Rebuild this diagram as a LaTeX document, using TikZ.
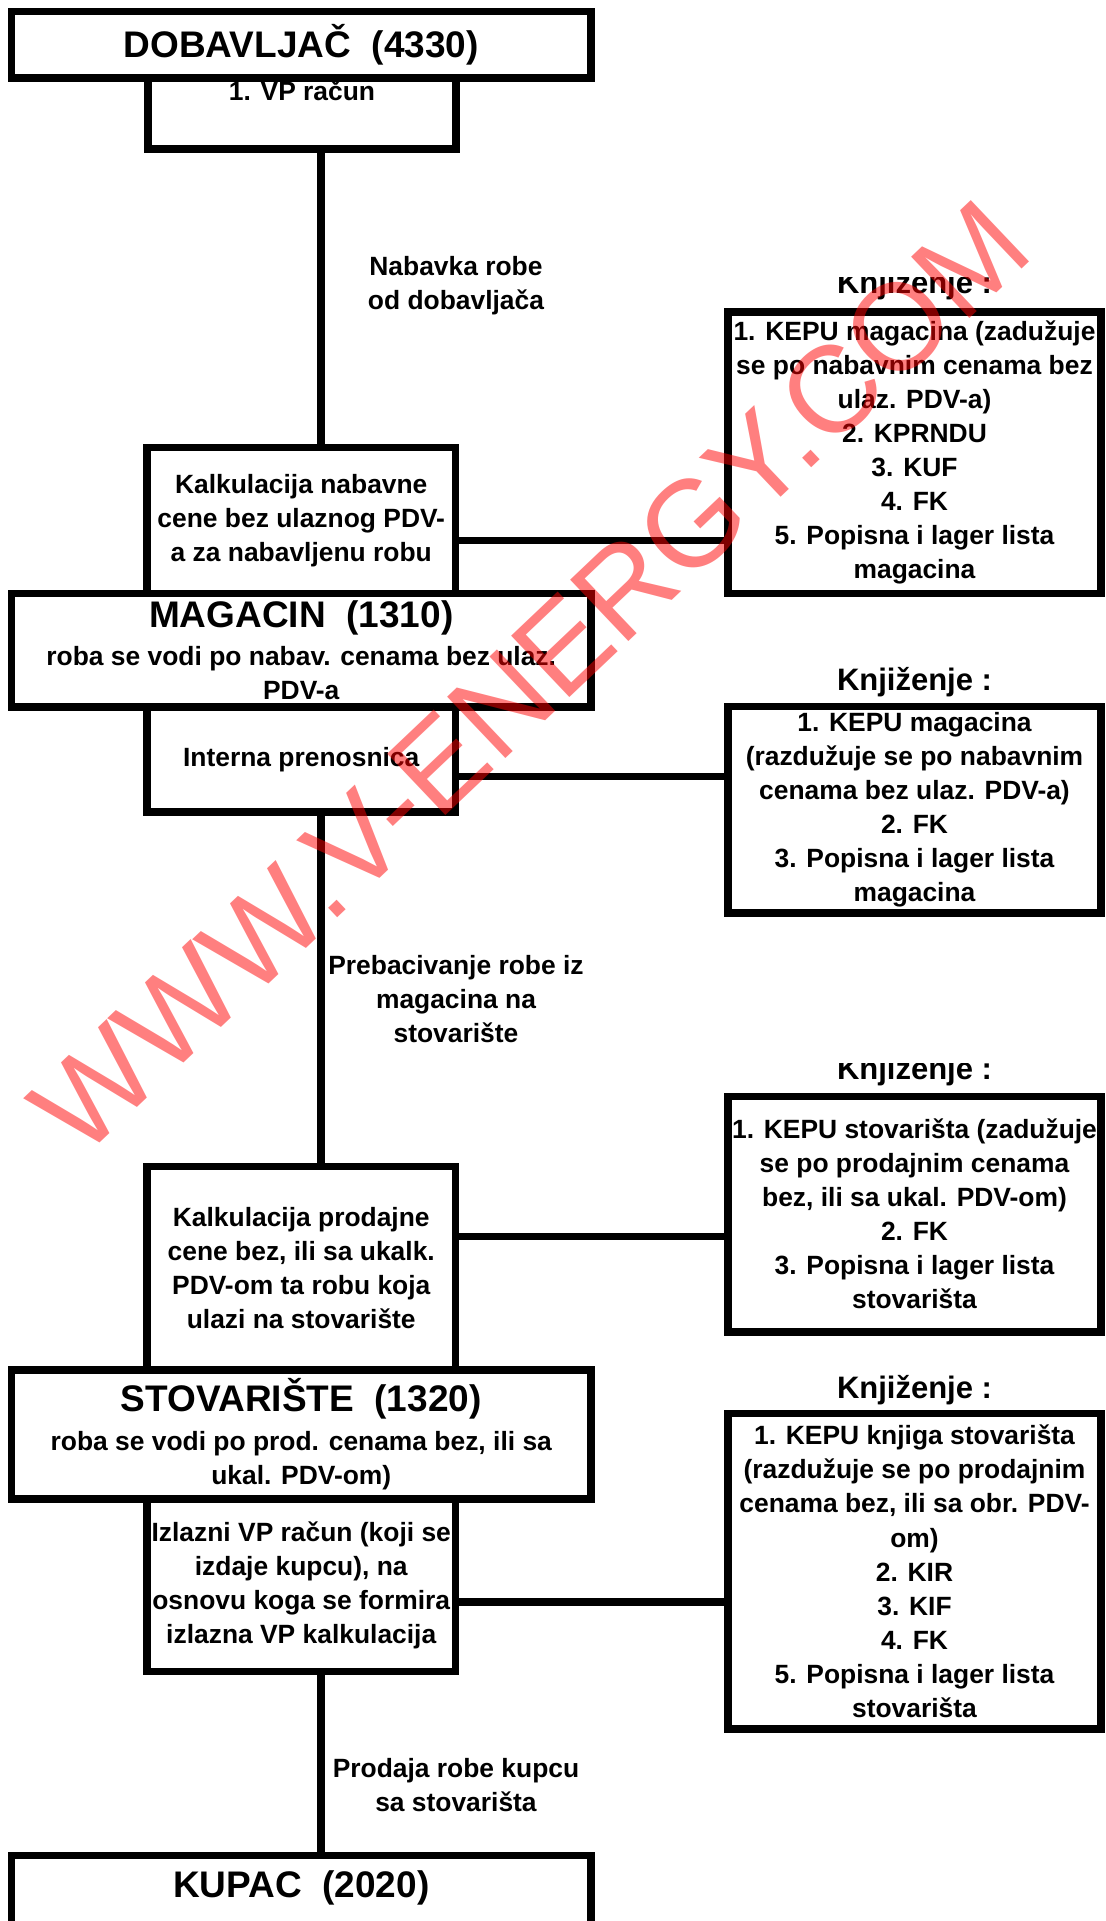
\documentclass[tikz,border=0pt]{standalone}
\usepackage{fontspec}
\setmainfont{Liberation Sans}
\usetikzlibrary{positioning}
\newcommand{\titlefont}{\fontsize{37bp}{44bp}\selectfont\bfseries}
\newcommand{\bodyfont}{\fontsize{26.4bp}{34bp}\selectfont\bfseries}
\newcommand{\headfont}{\fontsize{31bp}{36bp}\selectfont\bfseries}
\newcommand{\stampfont}{\fontsize{123bp}{130bp}\selectfont}
\tikzset{
  frame/.style={draw, line width=7.5bp, inner sep=0pt, outer sep=0pt, align=center, font=\bodyfont},
  unit/.style={frame, minimum width=579.5bp},
  doc/.style={frame, minimum width=308.5bp},
  book/.style={frame, minimum width=373bp},
  head/.style={font=\headfont, inner sep=0pt, anchor=base},
  flowtext/.style={font=\bodyfont, align=center, inner sep=0pt},
  link/.style={line width=7.5bp},
  stamp/.style={font=\stampfont, text=red, text opacity=0.5, inner sep=0pt},
}

\begin{document}
\begin{tikzpicture}[x=1bp, y=1bp]
  \useasboundingbox (0,0) rectangle (1105,-1921);
  \coordinate (spine) at (321,0);
  % left column
  \node[unit, anchor=north, minimum height=66.5bp] (dob) at (301.25,-11.5) {{\titlefont DOBAVLJAČ~~(4330)}};
  \node[doc, below=0pt of dob, xshift=0.75bp, minimum width=308bp, text height=22bp, text depth=49bp] (vp) {1. VP račun};
  \node[doc, anchor=north, minimum height=146bp] (kalk1) at (301.25,-447.5) {Kalkulacija nabavne\\cene bez ulaznog PDV-\\a za nabavljenu robu};
  \node[unit, below=0pt of kalk1, minimum height=113.5bp] (mag) {{\titlefont MAGACIN~~(1310)}\\[4bp]roba se vodi po nabav. cenama bez ulaz.\\PDV-a};
  \node[doc, below=0pt of mag, minimum height=105bp] (interna) {Interna prenosnica};
  \node[doc, anchor=north, minimum height=203.5bp] (kalk2) at (301.25,-1166.5) {Kalkulacija prodajne\\cene bez, ili sa ukalk.\\PDV-om ta robu koja\\ulazi na stovarište};
  \node[unit, below=0pt of kalk2, minimum height=129bp] (stov) {{\titlefont STOVARIŠTE~~(1320)}\\[5bp]roba se vodi po prod. cenama bez, ili sa\\ukal. PDV-om)};
  \node[doc, below=0pt of stov, minimum height=172.5bp] (izl) {Izlazni VP račun (koji se\\izdaje kupcu), na\\osnovu koga se formira\\izlazna VP kalkulacija};
  \node[unit, anchor=north, text height=41.5bp, text depth=38bp] (kupac) at (301.25,-1855.5) {{\titlefont KUPAC~~(2020)}};
  % booking boxes
  \node[book, anchor=north, minimum height=281.5bp] (knj1) at (914.5,-312) {1. KEPU magacina (zadužuje\\se po nabavnim cenama bez\\ulaz. PDV-a)\\2. KPRNDU\\3. KUF\\4. FK\\5. Popisna i lager lista\\magacina};
  \node[book, anchor=north, minimum height=206.5bp] (knj2) at (914.5,-706.5) {1. KEPU magacina\\(razdužuje se po nabavnim\\cenama bez ulaz. PDV-a)\\2. FK\\3. Popisna i lager lista\\magacina};
  \node[book, anchor=north, minimum height=235.5bp] (knj3) at (914.5,-1096.5) {1. KEPU stovarišta (zadužuje\\se po prodajnim cenama\\bez, ili sa ukal. PDV-om)\\2. FK\\3. Popisna i lager lista\\stovarišta};
  \node[book, anchor=north, minimum height=315.5bp] (knj4) at (914.5,-1413.5) {1. KEPU knjiga stovarišta\\(razdužuje se po prodajnim\\cenama bez, ili sa obr. PDV-\\om)\\2. KIR\\3. KIF\\4. FK\\5. Popisna i lager lista\\stovarišta};
  % connectors
  \foreach \a/\b in {vp/kalk1, interna/kalk2, izl/kupac} \draw[link] (\a.south -| spine) -- (\b.north -| spine);
  \foreach \a/\b/\s in {kalk1/knj1/-20, interna/knj2/-17, kalk2/knj3/31.75, izl/knj4/-16.75}
    \draw[link] ([yshift=\s bp]\a.east) -- ([yshift=\s bp]\a.east -| \b.west);
  % headings, two of them cut at the top
  \begin{scope}
    \clip (700,-277) rectangle (1105,-310);
    \node[head] (h1) at (914.5,-293) {Knjiženje :};
  \end{scope}
  \node[head] (h2) at (914.5,-690) {Knjiženje :};
  \begin{scope}
    \clip (700,-1063) rectangle (1105,-1095);
    \node[head] (h3) at (914.5,-1079) {Knjiženje :};
  \end{scope}
  \node[head] (h4) at (914.5,-1398) {Knjiženje :};
  % flow labels
  \node[flowtext] (nabavka) at (456,-286) {Nabavka robe\\od dobavljača};
  \node[flowtext] (prebac) at (456,-999) {Prebacivanje robe iz\\magacina na\\stovarište};
  \node[flowtext] (prodaja) at (456,-1785) {Prodaja robe kupcu\\sa stovarišta};
  % watermark
  \node[stamp, rotate=43.5] (wm) at (530,-677) {WWW.V-ENERGY.COM};
\end{tikzpicture}
\end{document}
